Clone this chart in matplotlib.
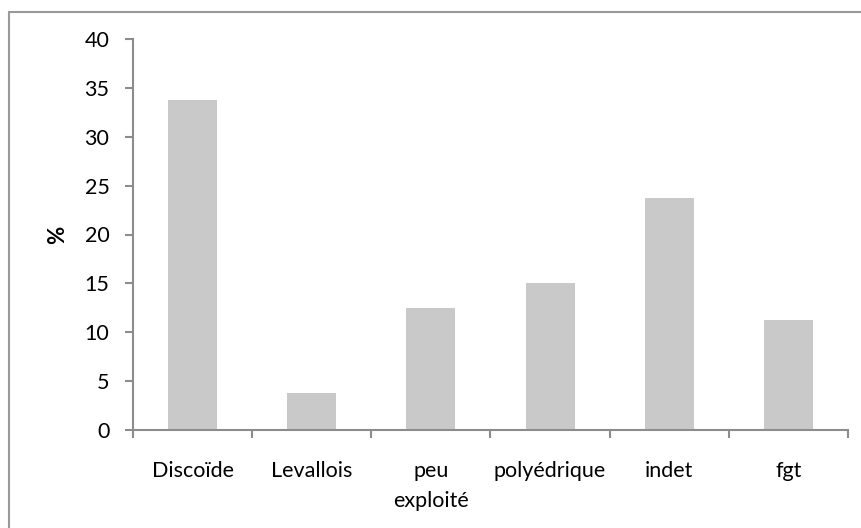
import matplotlib
matplotlib.use("Agg")
from matplotlib import pyplot as plt
from matplotlib.patches import Rectangle
import numpy as np

categories = ["Discoïde", "Levallois", "peu\nexploité", "polyédrique", "indet", "fgt"]
percent = [33.75, 3.75, 12.5, 15.0, 23.75, 11.25]
yticks = [0, 5, 10, 15, 20, 25, 30, 35, 40]

plt.rcParams['font.family'] = ['Lato', 'DejaVu Sans']

fig = plt.figure(figsize=(8.62, 5.28), dpi=100)
# outer frame (only top and left edges show in the original crop)
fig.patches.append(Rectangle((9/862, -0.1), 1.2, 1 - 12/528 + 0.1, transform=fig.transFigure,
                             fill=False, edgecolor='#9a9a9a', lw=1.5, zorder=0))

ax = fig.add_axes([133/862, 1 - 430/528, (848-133)/862, (430-39)/528])
x = np.arange(len(categories))
ax.bar(x, percent, width=0.41, color='#c9c9c9', zorder=2)

ax.set_xlim(-0.5, len(categories) - 0.5)
ax.set_ylim(0, 40)
ax.set_yticks(yticks)
ax.set_xticks(np.arange(len(categories) + 1) - 0.5, minor=False)
ax.set_xticklabels([])
ax.set_xticks(x, minor=True)
ax.set_xticklabels(categories, minor=True, fontsize=15.5, linespacing=1.65, va='top')

for s in ['top', 'right']:
    ax.spines[s].set_visible(False)
for s in ['left', 'bottom']:
    ax.spines[s].set_color('#8c8c8c')
    ax.spines[s].set_linewidth(1.5)

ax.tick_params(axis='y', length=6, width=1.5, color='#8c8c8c', labelsize=15.5, pad=11)
ax.tick_params(axis='x', which='major', length=6, width=1.5, color='#8c8c8c')
ax.tick_params(axis='x', which='minor', length=0, pad=22)

ax.set_ylabel('%', fontsize=16, fontweight='bold', labelpad=12)

fig.savefig("out.png", dpi=100)
